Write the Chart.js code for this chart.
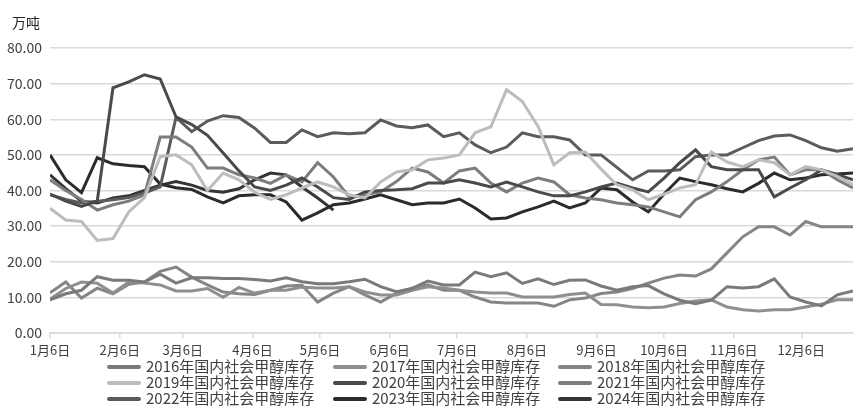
<!DOCTYPE html>
<html>
<head>
<meta charset="utf-8">
<script src="https://cdn.jsdelivr.net/npm/chart.js@4/dist/chart.umd.min.js"></script>
<style>
  html, body { margin: 0; padding: 0; background: #fff; }
  #wrap { position: relative; width: 861px; height: 419px; }
  #unit { position: absolute; left: 12px; top: 12px; font-family: "Noto Sans CJK SC", "Noto Sans", sans-serif;
    font-size: 14px; line-height: 20px; color: #262626; }
  #legend { position: absolute; left: 0; top: 0; width: 861px; height: 419px; pointer-events: none;
    font-family: "Noto Sans CJK SC", "Noto Sans", sans-serif; font-size: 15px; color: #404040; }
  .item { position: absolute; height: 16px; line-height: 16px; white-space: nowrap; }
  .item .ln { position: absolute; left: 0; top: 6px; width: 34px; height: 4px; border-radius: 2px; }
  .item .tx { position: absolute; left: 39px; top: -1px; }
</style>
</head>
<body>
<div id="wrap">
  <canvas id="c" width="861" height="419"></canvas>
  <div id="unit">万吨</div>
  <div id="legend"></div>
</div>
<script>
// ---- data ----
const weekDays = [0,7,14,21,28,35,42,49,56,63,70,77,84,91,98,105,112,119,126,133,140,147,154,161,168,175,182,189,196,203,210,217,224,231,238,245,252,259,266,273,280,287,294,301,308,315,322,329,336,343,350,357];
const tickDays = [0,31,59,90,120,151,181,212,243,273,304,334];
const tickLabels = ["1月6日","2月6日","3月6日","4月6日","5月6日","6月6日","7月6日","8月6日","9月6日","10月6日","11月6日","12月6日"];
const seriesNames = ["2016年国内社会甲醇库存","2017年国内社会甲醇库存","2018年国内社会甲醇库存","2019年国内社会甲醇库存","2020年国内社会甲醇库存","2021年国内社会甲醇库存","2022年国内社会甲醇库存","2023年国内社会甲醇库存","2024年国内社会甲醇库存"];

const s2016 = [9.3,11,12,15.8,14.8,14.8,14.3,16.5,14,15.5,15.5,15.3,15.3,15,14.6,15.5,14.4,13.8,13.8,14.4,15.1,13,11.6,12.5,14.6,13.5,13.5,17.1,15.8,16.9,13.9,15.2,13.6,14.8,14.9,13.2,12,13,13.3,11,9.2,8.2,9.2,13,12.6,13,15.2,10.1,8.7,7.6,10.7,11.8];
const s2017 = [9.5,12.5,14.3,14,11.2,14.3,14,13.5,11.8,11.8,12.5,10,12.8,11.2,12,12,12.9,12.6,12.6,13,11.5,10.7,10.7,12,13,12.6,12,11.5,11.2,11.2,10.1,10.1,10.1,10.8,11.2,8,7.9,7.3,7.1,7.3,8.3,9,9.3,7.3,6.5,6.2,6.5,6.5,7.3,8.1,9.3,9.3];
const s2018 = [11.3,14.3,9.8,12.6,11,13.7,14.3,17.3,18.5,15.7,13.5,11.5,11,10.8,12,13.2,13.4,8.7,11.2,13,10.7,8.7,11.2,12.6,13.5,12,12,10.1,8.7,8.4,8.4,8.4,7.5,9.3,9.8,11.1,11.5,12.5,14,15.4,16.3,16,18,22.5,27,29.8,29.8,27.5,31.3,29.8,29.8,29.8];
const s2019 = [35,31.7,31.3,26,26.5,34,38,49.5,50,47.2,40,44.9,43,39.5,37.5,38.8,40.7,42.4,41,38.8,37.9,42.4,45.2,45.8,48.6,49.1,50,56.2,57.9,68.3,65,58,47.2,50.6,50.8,46,41.6,40.2,37.4,39,40.7,41.6,50.8,48,46.7,48.6,47.8,44.4,46.7,45.8,44,41.6];
const s2020 = [39,37,35.5,37,68.8,70.5,72.5,71.3,60.7,58.5,55.5,50.5,45.5,41,40,41.5,43.5,41,38,37.5,39.6,40,40.2,40.5,42.1,42.1,43,42.1,41,42.4,41,39.6,38.5,38.5,39.6,41,42.1,40.7,39.6,43.5,47.8,51.4,46.7,45.8,45.8,45.8,38.2,40.7,43,45.8,44.5,43];
const s2021 = [43,40,37.5,34.5,36,37,38.8,55,55,52.2,46.3,46.3,44.4,43.5,42,44.4,42.4,47.8,43.8,38.2,38.8,39.6,42.5,46.3,45.2,42.1,45.5,46.3,42.1,39.6,42.1,43.5,42.4,38.8,37.9,37.4,36.5,36,35.4,34,32.6,37.4,39.6,42.5,45.8,48.6,49.4,44.4,45.8,45.8,43,40.7];
const s2022 = [38.8,37.5,36.5,37,37.4,38,39.3,41,60.5,56.5,59.5,61,60.5,57.5,53.5,53.5,57,55.1,56.2,55.9,56.2,59.8,58.1,57.6,58.4,55.1,56.2,52.8,50.6,52.2,56.2,55.1,55.1,54.2,50,50,46.5,43,45.5,45.5,45.8,49.5,50,50,52,54,55.3,55.6,54,52,51,51.7];
const s2023 = [50,43,39.4,49.2,47.5,47,46.7,41.8,40.8,40.3,38.2,36.5,38.5,38.8,38.8,36.8,31.7,33.7,36,36.5,37.6,38.8,37.4,36,36.5,36.5,37.6,35.1,32,32.3,34,35.4,37,35.1,36.5,40.7,40.2,36.8,34,39,43.5,42.5,41.6,40.5,39.6,42,44.9,43,43.5,44.4,44.6,44.9];
const s2024 = [44.4,40.5,37,36.5,37.9,38.5,40,41.5,42.5,41.5,40,39.5,40.5,43,44.9,44.4,41,37.9,34.5];

const seriesValues = [s2016,s2017,s2018,s2019,s2020,s2021,s2022,s2023,s2024];
const seriesColors = ["#7a7a7a","#8f8f8f","#858585","#bdbdbd","#4a4a4a","#7d7d7d","#5b5b5b","#2b2b2b","#353535"];

const FONT = "'Noto Sans CJK SC', 'Noto Sans', sans-serif";

const datasets = seriesValues.map((vals, i) => ({
  label: seriesNames[i],
  data: vals.map((v, k) => ({ x: weekDays[k], y: v })),
  borderColor: seriesColors[i],
  backgroundColor: seriesColors[i],
  borderWidth: 3,
  pointRadius: 0,
  tension: 0,
  fill: false
}));

const chart = new Chart(document.getElementById('c'), {
  type: 'line',
  data: { datasets },
  options: {
    responsive: false,
    animation: false,
    layout: { padding: { left: 0, right: 8, top: 48, bottom: 56 } },
    plugins: {
      legend: { display: false },
      tooltip: { enabled: false },
      title: { display: false }
    },
    scales: {
      x: {
        type: 'linear', min: 0, max: 357,
        afterBuildTicks: (s) => { s.ticks = tickDays.map(v => ({ value: v })); },
        afterFit: (s) => { s.height = 30; },
        ticks: {
          autoSkip: false, maxRotation: 0, padding: 4, color: '#404040',
          font: { family: FONT, size: 13 },
          callback: (v) => tickLabels[tickDays.indexOf(v)]
        },
        grid: { drawOnChartArea: false, drawTicks: true, tickLength: 5, color: '#d9d9d9', lineWidth: 1.5 },
        border: { display: true, color: '#d9d9d9', width: 1.5 }
      },
      y: {
        min: 0, max: 80,
        afterFit: (s) => { s.width = 50; },
        ticks: {
          stepSize: 10, padding: 8, color: '#404040',
          font: { family: FONT, size: 14 },
          callback: (v) => v.toFixed(2)
        },
        grid: { color: '#d9d9d9', lineWidth: 1.5, drawTicks: false },
        border: { display: false }
      }
    }
  }
});

// HTML legend built from the chart's datasets
const legendPos = [[107,359],[333,359],[558,359],[107,375],[333,375],[558,375],[107,391],[333,391],[558,391]];
const lg = document.getElementById('legend');
chart.data.datasets.forEach((ds, i) => {
  const el = document.createElement('div');
  el.className = 'item';
  el.style.left = legendPos[i][0] + 'px';
  el.style.top = legendPos[i][1] + 'px';
  el.innerHTML = '<span class="ln" style="background:' + ds.borderColor + '"></span><span class="tx">' + ds.label + '</span>';
  lg.appendChild(el);
});
</script>
</body>
</html>
